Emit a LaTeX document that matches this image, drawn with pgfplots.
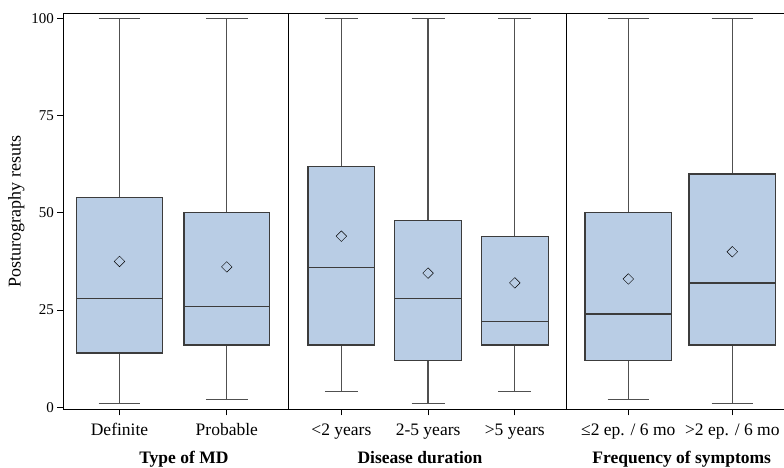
\documentclass[border=0pt]{standalone}
\usepackage{pgfplots}
\pgfplotsset{compat=1.18}
\usepgfplotslibrary{statistics}
\usepackage{fontspec}
\setmainfont{Liberation Serif}

\definecolor{boxfill}{HTML}{B9CDE5}
\definecolor{boxedge}{HTML}{3C3C3C}
\definecolor{whisk}{HTML}{505050}

% square diamond used for the mean
\pgfdeclareplotmark{meandiamond}{%
  \pgfpathmoveto{\pgfqpoint{0pt}{\pgfplotmarksize}}%
  \pgfpathlineto{\pgfqpoint{\pgfplotmarksize}{0pt}}%
  \pgfpathlineto{\pgfqpoint{0pt}{-\pgfplotmarksize}}%
  \pgfpathlineto{\pgfqpoint{-\pgfplotmarksize}{0pt}}%
  \pgfpathclose
  \pgfusepathqstroke}

\pgfplotsset{
  panel/.style={
    scale only axis, height=396pt, ymin=-0.51, ymax=101.3,
    axis line style={black, line width=1pt},
    tick align=outside, major tick length=6pt,
    xtick pos=left, ytick pos=left,
    tick style={black, line width=0.9pt},
    ytick=\empty,
    xticklabel style={font=\fontsize{17.5}{20}\selectfont, anchor=base, yshift=-20pt},
    xlabel style={font=\fontsize{17.5}{20}\selectfont\bfseries, anchor=base, yshift=-54pt},
    boxplot/draw direction=y,
    boxplot/every box/.style={draw=boxedge, fill=boxfill, line width=1.3pt},
    boxplot/every median/.style={draw=boxedge, line width=1.3pt},
    boxplot/every whisker/.style={draw=whisk, line width=1.2pt},
    boxplot/every average/.style={/tikz/mark=meandiamond, /tikz/mark size=5.3pt,
      /tikz/every mark/.append style={draw=boxedge, line width=1.3pt}},
    clip=false,
  },
}

\begin{document}
\begin{tikzpicture}
% Panel 1: type of MD
\begin{axis}[panel, at={(63.3pt,57.7pt)}, anchor=south west, width=225.4pt,
  xmin=-0.524, xmax=1.577, xtick={0,1}, xticklabels={Definite,Probable},
  ytick={0,25,50,75,100},
  /pgf/number format/assume math mode=true,
  yticklabel style={font=\fontsize{15}{18}\selectfont},
  ylabel={Posturography resuts},
  ylabel style={font=\fontsize{18}{21}\selectfont, at={(axis description cs:-0.2085,0.5)}, anchor=center},
  xlabel={Type of MD}, xlabel style={at={(axis description cs:0.535,0)}},
  boxplot/box extend=0.80, boxplot/whisker extend=0.39]
\addplot[boxplot prepared={draw position=0, lower whisker=1, lower quartile=14,
  median=28, upper quartile=54, upper whisker=100, average=37.5}] coordinates {};
\addplot[boxplot prepared={draw position=1, lower whisker=2, lower quartile=16,
  median=26, upper quartile=50, upper whisker=100, average=36.1}] coordinates {};
\end{axis}
% Panel 2: disease duration
\begin{axis}[panel, at={(288.7pt,57.7pt)}, anchor=south west, width=277.3pt,
  xmin=-0.607, xmax=2.59, xtick={0,1,2},
  xticklabels={<2 years,2-5 years,>5 years},
  xlabel={Disease duration}, xlabel style={at={(axis description cs:0.4735,0)}},
  boxplot/box extend=0.77, boxplot/whisker extend=0.38]
\addplot[boxplot prepared={draw position=0, lower whisker=4, lower quartile=16,
  median=36, upper quartile=62, upper whisker=100, average=44}] coordinates {};
\addplot[boxplot prepared={draw position=1, lower whisker=1, lower quartile=12,
  median=28, upper quartile=48, upper whisker=100, average=34.5}] coordinates {};
\addplot[boxplot prepared={draw position=2, lower whisker=4, lower quartile=16,
  median=22, upper quartile=44, upper whisker=100, average=32}] coordinates {};
\end{axis}
% Panel 3: frequency of symptoms
\begin{axis}[panel, at={(566pt,57.7pt)}, anchor=south west, width=228.7pt,
  xmin=-0.599, xmax=1.6, xtick={0,1},
  xticklabels={≤2 ep. / 6 mo,>2 ep. / 6 mo},
  xlabel={Frequency of symptoms}, xlabel style={at={(axis description cs:0.506,0)}},
  boxplot/box extend=0.83, boxplot/whisker extend=0.40]
\addplot[boxplot prepared={draw position=0, lower whisker=2, lower quartile=12,
  median=24, upper quartile=50, upper whisker=100, average=33}] coordinates {};
\addplot[boxplot prepared={draw position=1, lower whisker=1, lower quartile=16,
  median=32, upper quartile=60, upper whisker=100, average=40}] coordinates {};
\end{axis}
\pgfresetboundingbox
\path[use as bounding box] (0,0) rectangle (784pt,467pt);
\end{tikzpicture}
\end{document}
